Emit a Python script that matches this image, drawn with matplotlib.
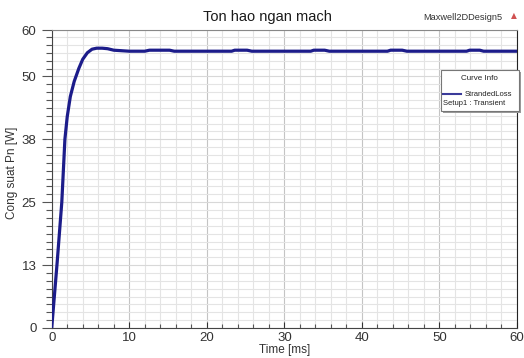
import matplotlib

matplotlib.use("Agg")
import matplotlib.pyplot as plt
from matplotlib.patches import Rectangle
from matplotlib.lines import Line2D
from matplotlib.ticker import MultipleLocator

# StrandedLoss, Setup1 : Transient
time_ms = [0, 0.35, 0.7, 1.0, 1.3, 1.7, 2.0, 2.4, 2.9, 3.5, 4.0, 4.6, 5.2, 5.8, 6.5,
           7.2, 8.0, 9.0, 10, 12, 12.6, 13.5, 15.2, 15.8, 20, 23.2, 23.6, 25.2,
           25.8, 30, 33.4, 33.8, 35.2, 35.8, 40, 43.3, 43.7, 45.2, 45.8, 50,
           53.5, 53.9, 55.2, 55.7, 60]
loss_w = [0, 6.5, 13, 19, 25, 37.5, 42, 46, 49, 51.6, 53.4, 54.7, 55.4, 55.6, 55.6,
          55.5, 55.2, 55.1, 55.0, 55.0, 55.2, 55.2, 55.2, 55.0, 55.0, 55.0, 55.2,
          55.2, 55.0, 55.0, 55.0, 55.2, 55.2, 55.0, 55.0, 55.0, 55.2, 55.2, 55.0,
          55.0, 55.0, 55.2, 55.2, 55.0, 55.0]

y_top = 59.2
y_ticks = [0, 12.5, 25, 37.5, 50, y_top]
y_labels = ["0", "13", "25", "38", "50", "60"]
x_ticks = [0, 10, 20, 30, 40, 50, 60]

plt.rcParams["font.family"] = ["Liberation Sans", "DejaVu Sans"]

fig = plt.figure(figsize=(5.24, 3.58), dpi=100)
ax = fig.add_axes([0.0987, 0.0838, 0.8879, 0.8322])

ax.plot(time_ms, loss_w, color="#1c1c8a", lw=2.3, solid_joinstyle="round", zorder=3)

ax.set_xlim(0, 60)
ax.set_ylim(0, y_top)
ax.set_xticks(x_ticks)
ax.set_yticks(y_ticks)
ax.set_yticklabels(y_labels)
ax.xaxis.set_minor_locator(MultipleLocator(2))
ax.yaxis.set_minor_locator(MultipleLocator(12.5 / 8))

ax.grid(which="minor", color="#e4e4e4", lw=0.8)
ax.grid(which="major", axis="x", color="#c4c4c4", lw=0.8)
ax.grid(which="major", axis="y", color="#d8d8d8", lw=0.8)
ax.set_axisbelow(True)

ax.tick_params(axis="y", which="major", direction="out", length=7, width=0.8,
               colors="#555555", labelcolor="#333333", labelsize=9.5, pad=4)
ax.tick_params(axis="y", which="minor", direction="out", length=4, width=0.8, colors="#555555")
ax.tick_params(axis="x", which="major", direction="in", length=4, width=0.8,
               colors="#333333", labelcolor="#333333", labelsize=9.5, pad=3)
ax.tick_params(axis="x", which="minor", direction="in", length=3, width=0.8, colors="#555555")
for side in ["left", "bottom"]:
    ax.spines[side].set_color("#444444")
ax.spines["top"].set_color("#888888")
ax.spines["right"].set_color("#222222")

ax.set_ylabel("Cong suat Pn [W]", fontsize=8.5, color="#333333")
ax.yaxis.set_label_coords(-0.072, 0.52)
ax.set_xlabel("Time [ms]", fontsize=8.5, color="#333333", labelpad=0)

fig.text(0.51, 0.952, "Ton hao ngan mach", ha="center", va="center",
         fontsize=10.5, color="#1a1a1a")
fig.text(0.958, 0.952, "Maxwell2DDesign5", ha="right", va="center",
         fontsize=6.7, color="#333333")
fig.text(0.981, 0.956, "\u25b2", ha="center", va="center", fontsize=5.5,
         color="#d05050", family=["DejaVu Sans"])

# curve info box
bx, by, bw, bh = 0.841, 0.691, 0.149, 0.114
fig.patches.append(Rectangle((bx + 0.004, by - 0.006), bw, bh, transform=fig.transFigure,
                             facecolor="#9a9a9a", edgecolor="none", zorder=4))
fig.patches.append(Rectangle((bx, by), bw, bh, transform=fig.transFigure,
                             facecolor="white", edgecolor="#777777", lw=0.8, zorder=5))
fig.text(bx + bw / 2, 0.782, "Curve Info", ha="center", va="center", fontsize=5.8,
         color="#222222", zorder=6)
fig.lines.append(Line2D([bx + 0.004, bx + 0.038], [0.737, 0.737], transform=fig.transFigure,
                        color="#3a3a9a", lw=1.5, zorder=6))
fig.text(0.887, 0.737, "StrandedLoss", ha="left", va="center", fontsize=5.5,
         color="#222222", zorder=6)
fig.text(bx + 0.004, 0.712, "Setup1 : Transient", ha="left", va="center", fontsize=5.5,
         color="#222222", zorder=6)

fig.savefig("out.png", dpi=100)
